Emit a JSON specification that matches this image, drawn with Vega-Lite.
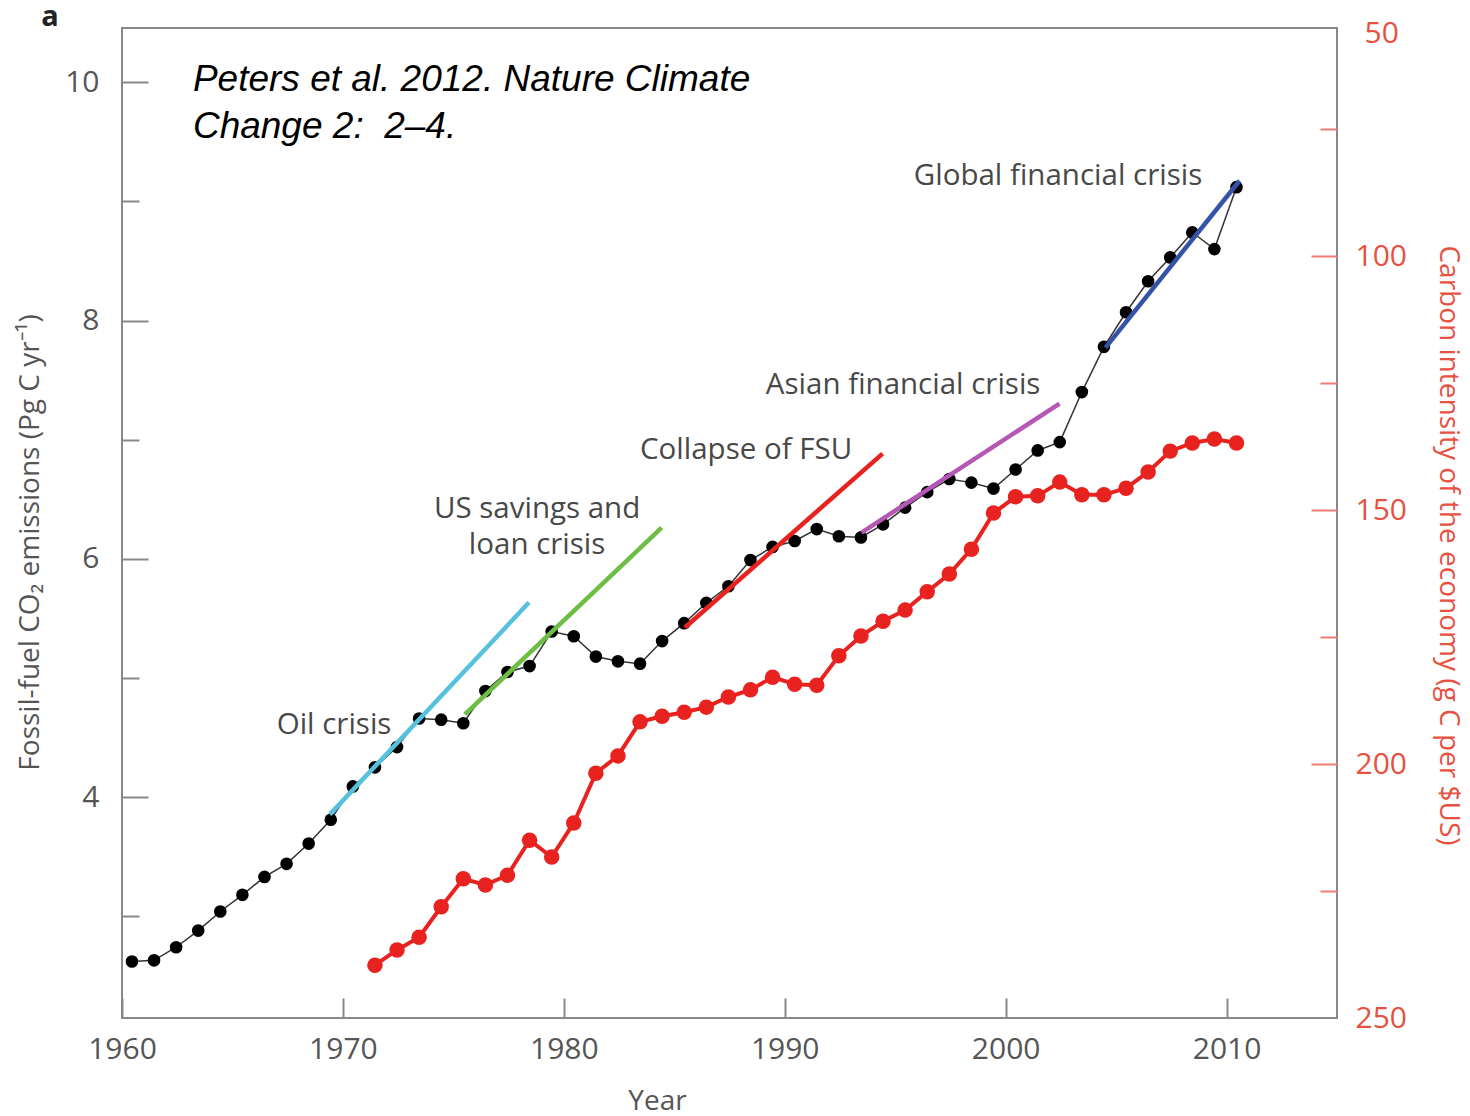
{
  "$schema": "https://vega.github.io/schema/vega-lite/v6.json",
  "width": 1215,
  "height": 990,
  "autosize": {"type": "none"},
  "padding": {"left": 122, "top": 28, "right": 133, "bottom": 98},
  "config": {
    "view": {"stroke": "#888888", "strokeWidth": 2},
    "axis": {"domain": false, "grid": false, "labelFont": "Open Sans", "titleFont": "Open Sans", "labelFontSize": 30, "titleFontSize": 28, "titleFontWeight": "normal"}
  },
  "datasets": {
    "em": [
      {"t": 1960.45, "em": 2.62}, {"t": 1961.45, "em": 2.63}, {"t": 1962.45, "em": 2.74}, {"t": 1963.45, "em": 2.88},
      {"t": 1964.45, "em": 3.04}, {"t": 1965.45, "em": 3.18}, {"t": 1966.45, "em": 3.33}, {"t": 1967.45, "em": 3.44},
      {"t": 1968.45, "em": 3.61}, {"t": 1969.45, "em": 3.81}, {"t": 1970.45, "em": 4.09}, {"t": 1971.45, "em": 4.25},
      {"t": 1972.45, "em": 4.42}, {"t": 1973.45, "em": 4.66}, {"t": 1974.45, "em": 4.65}, {"t": 1975.45, "em": 4.62},
      {"t": 1976.45, "em": 4.89}, {"t": 1977.45, "em": 5.05}, {"t": 1978.45, "em": 5.10}, {"t": 1979.45, "em": 5.39},
      {"t": 1980.45, "em": 5.35}, {"t": 1981.45, "em": 5.18}, {"t": 1982.45, "em": 5.14}, {"t": 1983.45, "em": 5.12},
      {"t": 1984.45, "em": 5.31}, {"t": 1985.45, "em": 5.46}, {"t": 1986.45, "em": 5.63}, {"t": 1987.45, "em": 5.77},
      {"t": 1988.45, "em": 5.99}, {"t": 1989.45, "em": 6.10}, {"t": 1990.45, "em": 6.15}, {"t": 1991.45, "em": 6.25},
      {"t": 1992.45, "em": 6.19}, {"t": 1993.45, "em": 6.18}, {"t": 1994.45, "em": 6.29}, {"t": 1995.45, "em": 6.43},
      {"t": 1996.45, "em": 6.56}, {"t": 1997.45, "em": 6.67}, {"t": 1998.45, "em": 6.64}, {"t": 1999.45, "em": 6.59},
      {"t": 2000.45, "em": 6.75}, {"t": 2001.45, "em": 6.91}, {"t": 2002.45, "em": 6.98}, {"t": 2003.45, "em": 7.40},
      {"t": 2004.45, "em": 7.78}, {"t": 2005.45, "em": 8.07}, {"t": 2006.45, "em": 8.33}, {"t": 2007.45, "em": 8.53},
      {"t": 2008.45, "em": 8.74}, {"t": 2009.45, "em": 8.60}, {"t": 2010.45, "em": 9.12}
    ],
    "ci": [
      {"t": 1971.45, "ci": 239.6}, {"t": 1972.45, "ci": 236.6}, {"t": 1973.45, "ci": 234.1}, {"t": 1974.45, "ci": 228.1},
      {"t": 1975.45, "ci": 222.6}, {"t": 1976.45, "ci": 223.8}, {"t": 1977.45, "ci": 221.9}, {"t": 1978.45, "ci": 215.0},
      {"t": 1979.45, "ci": 218.3}, {"t": 1980.45, "ci": 211.6}, {"t": 1981.45, "ci": 201.8}, {"t": 1982.45, "ci": 198.4},
      {"t": 1983.45, "ci": 191.7}, {"t": 1984.45, "ci": 190.6}, {"t": 1985.45, "ci": 189.8}, {"t": 1986.45, "ci": 188.8},
      {"t": 1987.45, "ci": 186.8}, {"t": 1988.45, "ci": 185.4}, {"t": 1989.45, "ci": 182.9}, {"t": 1990.45, "ci": 184.3},
      {"t": 1991.45, "ci": 184.5}, {"t": 1992.45, "ci": 178.7}, {"t": 1993.45, "ci": 174.8}, {"t": 1994.45, "ci": 171.9},
      {"t": 1995.45, "ci": 169.7}, {"t": 1996.45, "ci": 166.1}, {"t": 1997.45, "ci": 162.6}, {"t": 1998.45, "ci": 157.7},
      {"t": 1999.45, "ci": 150.6}, {"t": 2000.45, "ci": 147.4}, {"t": 2001.45, "ci": 147.2}, {"t": 2002.45, "ci": 144.5},
      {"t": 2003.45, "ci": 147.0}, {"t": 2004.45, "ci": 147.0}, {"t": 2005.45, "ci": 145.7}, {"t": 2006.45, "ci": 142.5},
      {"t": 2007.45, "ci": 138.4}, {"t": 2008.45, "ci": 136.8}, {"t": 2009.45, "ci": 136.0}, {"t": 2010.45, "ci": 136.8}
    ],
    "trends": [
      {"seg": "oil", "t": 1969.41, "em": 3.855}, {"seg": "oil", "t": 1978.42, "em": 5.633},
      {"seg": "sl", "t": 1975.52, "em": 4.694}, {"seg": "sl", "t": 1984.43, "em": 6.263},
      {"seg": "fsu", "t": 1985.48, "em": 5.424}, {"seg": "fsu", "t": 1994.43, "em": 6.883},
      {"seg": "asia", "t": 1993.48, "em": 6.221}, {"seg": "asia", "t": 2002.44, "em": 7.303},
      {"seg": "gfc", "t": 2004.52, "em": 7.773}, {"seg": "gfc", "t": 2010.59, "em": 9.174}
    ],
    "labels": [
      {"t": 2002.37, "em": 9.21, "text": "Global financial crisis"},
      {"t": 1995.36, "em": 7.46, "text": "Asian financial crisis"},
      {"t": 1988.25, "em": 6.91, "text": "Collapse of FSU"},
      {"t": 1978.79, "em": 6.42, "text": "US savings and\nloan crisis"},
      {"t": 1969.60, "em": 4.605, "text": "Oil crisis"}
    ],
    "cite": [
      {"t": 1963.21, "em": 10.02, "text": "Peters et al. 2012. Nature Climate"},
      {"t": 1963.21, "em": 9.627, "text": "Change 2: \u00a02–4."}
    ],
    "panel": [
      {"t": 1956.74, "em": 10.545, "text": "a"}
    ]
  },
  "encoding": {
    "x": {
      "field": "t", "type": "quantitative",
      "scale": {"domain": [1960, 2015], "nice": false, "zero": false},
      "axis": {"values": [1960, 1970, 1980, 1990, 2000, 2010], "format": "d", "labelFlush": false, "tickSize": -20, "tickColor": "#888888", "tickWidth": 2, "labelPadding": 36, "labelColor": "#555555", "title": "Year", "titleColor": "#555555", "titleX": 535, "titleY": 83, "titleAlign": "center", "titleBaseline": "middle"}
    }
  },
  "layer": [
    {
      "encoding": {
        "y": {
          "field": "em", "type": "quantitative",
          "scale": {"domain": [2.146, 10.456], "nice": false, "zero": false},
          "axis": {"orient": "left", "values": [3, 4, 5, 6, 7, 8, 9, 10], "labelExpr": "datum.value % 2 == 0 ? datum.label : ''", "tickSize": {"condition": {"test": "datum.value % 2 == 0", "value": -26}, "value": -17}, "tickColor": "#888888", "tickWidth": 2, "labelPadding": 49, "labelColor": "#555555", "title": "Fossil-fuel CO₂ emissions (Pg C yr⁻¹)", "titleColor": "#555555", "titleAngle": -90, "titleX": -92, "titleY": 514, "titleAlign": "center", "titleBaseline": "middle"}
        }
      },
      "layer": [
        {"data": {"name": "em"}, "mark": {"type": "line", "color": "#333333", "strokeWidth": 1.5}},
        {"data": {"name": "em"}, "mark": {"type": "point", "filled": true, "color": "#000000", "opacity": 1, "size": 160}},
        {"data": {"name": "trends"}, "mark": {"type": "line", "strokeWidth": 4.5, "strokeCap": "butt"},
         "encoding": {"color": {"field": "seg", "type": "nominal", "scale": {"domain": ["oil", "sl", "fsu", "asia", "gfc"], "range": ["#56c1dd", "#6fbe44", "#e8231f", "#b557b5", "#3553a8"]}, "legend": null}}},
        {"data": {"name": "labels"}, "mark": {"type": "text", "font": "Open Sans", "fontSize": 29.5, "color": "#484848", "align": "center", "baseline": "middle", "lineBreak": "\n", "lineHeight": 36},
         "encoding": {"text": {"field": "text"}}},
        {"data": {"name": "cite"}, "mark": {"type": "text", "font": "Liberation Sans", "fontStyle": "italic", "fontSize": 37, "color": "#000000", "align": "left", "baseline": "middle"},
         "encoding": {"text": {"field": "text"}}},
        {"data": {"name": "panel"}, "mark": {"type": "text", "font": "Open Sans", "fontWeight": "bold", "fontSize": 29, "color": "#222222", "align": "center", "baseline": "middle"},
         "encoding": {"text": {"field": "text"}}}
      ]
    },
    {
      "data": {"name": "ci"},
      "encoding": {
        "y": {
          "field": "ci", "type": "quantitative",
          "scale": {"domain": [55.1, 250], "nice": false, "zero": false, "reverse": true},
          "axis": {"orient": "right", "values": [55.1, 75, 100, 125, 150, 175, 200, 225, 250], "labelExpr": "datum.value < 60 ? '50' : (datum.value % 50 == 0 ? datum.label : '')", "labelOffset": {"condition": {"test": "datum.value < 60", "value": 5}, "value": 0}, "tickSize": {"condition": {"test": "datum.value % 50 == 0", "value": -26}, "value": -17}, "tickOpacity": {"condition": {"test": "datum.value < 60 || datum.value > 240", "value": 0}, "value": 1}, "tickColor": "#ef7c72", "tickWidth": 2, "labelPadding": 44, "labelColor": "#e8503f", "title": "Carbon intensity of the economy (g C per $US)", "titleColor": "#e8503f", "titleAngle": 90, "titleX": 110, "titleY": 517, "titleAlign": "center", "titleBaseline": "middle"}
        }
      },
      "layer": [
        {"mark": {"type": "line", "color": "#e8221f", "strokeWidth": 4}},
        {"mark": {"type": "point", "filled": true, "color": "#e8221f", "opacity": 1, "size": 240}}
      ]
    }
  ],
  "resolve": {"scale": {"y": "independent"}}
}
